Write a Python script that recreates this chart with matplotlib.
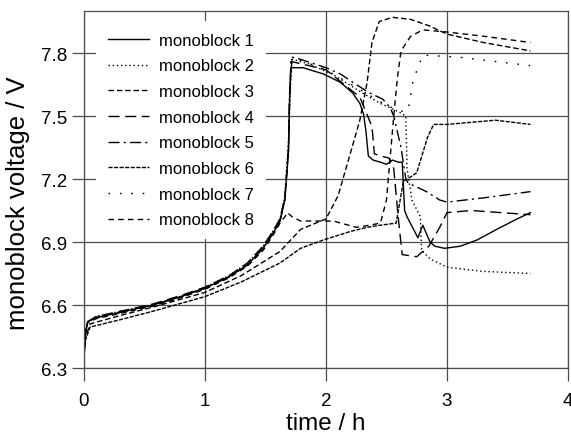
import matplotlib
matplotlib.use("Agg")
import matplotlib.pyplot as plt

plt.rcParams['font.family'] = ['Liberation Sans', 'DejaVu Sans']

# ---- data (time in h, voltage in V) ----
t1 = [0, 0.01, 0.03, 0.1, 0.3, 0.57, 0.8, 1.0, 1.2, 1.35, 1.48, 1.56, 1.62, 1.66, 1.69, 1.70, 1.71,
      1.81, 1.98, 2.12, 2.22, 2.28, 2.31, 2.33, 2.35, 2.39, 2.45, 2.5, 2.55, 2.6, 2.63, 2.65, 2.67,
      2.76, 2.8, 2.86, 2.9, 2.98, 3.11, 3.25, 3.41, 3.58, 3.69]
v1 = [6.36, 6.46, 6.52, 6.54, 6.565, 6.60, 6.64, 6.68, 6.735, 6.79, 6.87, 6.94, 7.0, 7.1, 7.33, 7.6, 7.73,
      7.73, 7.70, 7.66, 7.61, 7.56, 7.51, 7.43, 7.31, 7.29, 7.28, 7.27, 7.29, 7.28, 7.28, 7.05, 7.02,
      6.92, 6.98, 6.90, 6.88, 6.87, 6.88, 6.91, 6.96, 7.01, 7.04]

t2 = [0, 0.01, 0.03, 0.1, 0.3, 0.57, 0.8, 1.0, 1.2, 1.35, 1.48, 1.56, 1.62, 1.66, 1.69, 1.705, 1.72,
      1.85, 2.05, 2.3, 2.45, 2.6, 2.66, 2.67, 2.71, 2.78, 2.79, 2.86, 3.0, 3.3, 3.69]
v2 = [6.36, 6.46, 6.52, 6.545, 6.57, 6.60, 6.64, 6.685, 6.74, 6.80, 6.88, 6.95, 7.01, 7.12, 7.38, 7.62, 7.77,
      7.75, 7.70, 7.61, 7.56, 7.52, 7.50, 7.25, 7.10, 7.02, 6.86, 6.82, 6.78, 6.76, 6.75]

t3 = [0, 0.01, 0.05, 0.3, 0.6, 1.0, 1.3, 1.62, 1.79, 2.0, 2.1, 2.17, 2.28, 2.34, 2.38, 2.44, 2.55,
      2.7, 2.85, 3.0, 3.3, 3.69]
v3 = [6.35, 6.44, 6.51, 6.55, 6.595, 6.66, 6.74, 6.855, 6.96, 7.01, 7.12, 7.26, 7.48, 7.66, 7.85, 7.95, 7.97,
      7.96, 7.93, 7.89, 7.85, 7.81]

t4 = [0, 0.01, 0.03, 0.1, 0.3, 0.57, 0.8, 1.0, 1.2, 1.35, 1.48, 1.56, 1.62, 1.66, 1.69, 1.70, 1.71,
      2.0, 2.28, 2.38, 2.40, 2.45, 2.52, 2.56, 2.6, 2.63, 2.75, 2.85, 2.94, 3.0, 3.2, 3.69]
v4 = [6.36, 6.46, 6.52, 6.545, 6.57, 6.605, 6.645, 6.685, 6.74, 6.80, 6.88, 6.95, 7.01, 7.11, 7.35, 7.6, 7.76,
      7.72, 7.59, 7.45, 7.32, 7.31, 7.30, 7.25, 7.0, 6.84, 6.83, 6.88, 6.97, 7.04, 7.05, 7.03]

t5 = [0, 0.01, 0.03, 0.1, 0.3, 0.57, 0.8, 1.0, 1.2, 1.35, 1.48, 1.56, 1.62, 1.66, 1.69, 1.70, 1.72,
      1.79, 2.0, 2.12, 2.25, 2.36, 2.47, 2.53, 2.56, 2.62, 2.66, 2.68, 2.72, 2.83, 2.94, 3.0, 3.3, 3.69]
v5 = [6.36, 6.46, 6.52, 6.54, 6.565, 6.60, 6.64, 6.68, 6.735, 6.79, 6.87, 6.94, 7.0, 7.1, 7.34, 7.62, 7.78,
      7.77, 7.73, 7.70, 7.65, 7.61, 7.58, 7.54, 7.50, 7.35, 7.20, 7.18, 7.17, 7.14, 7.10, 7.09, 7.11, 7.14]

t6 = [0, 0.01, 0.05, 0.3, 0.6, 1.0, 1.3, 1.62, 1.79, 1.98, 2.2, 2.34, 2.45, 2.58, 2.64, 2.7, 2.75,
      2.84, 2.89, 3.0, 3.2, 3.4, 3.69]
v6 = [6.35, 6.43, 6.495, 6.53, 6.575, 6.64, 6.71, 6.80, 6.87, 6.91, 6.95, 6.97, 6.98, 6.99, 7.19, 7.21, 7.23,
      7.40, 7.46, 7.46, 7.47, 7.48, 7.46]

t7 = [0, 0.01, 0.03, 0.1, 0.3, 0.57, 0.8, 1.0, 1.2, 1.35, 1.48, 1.56, 1.62, 1.66, 1.69, 1.70, 1.72,
      2.0, 2.3, 2.5, 2.64, 2.68, 2.72, 2.76, 2.8, 3.1, 3.69]
v7 = [6.36, 6.46, 6.52, 6.545, 6.57, 6.60, 6.64, 6.68, 6.735, 6.79, 6.87, 6.94, 7.0, 7.1, 7.34, 7.62, 7.78,
      7.72, 7.62, 7.55, 7.52, 7.53, 7.67, 7.73, 7.79, 7.78, 7.74]

t8 = [0, 0.01, 0.03, 0.1, 0.3, 0.57, 0.8, 1.0, 1.2, 1.35, 1.48, 1.56, 1.62, 1.66, 1.68, 1.72,
      1.79, 2.06, 2.25, 2.36, 2.45, 2.5, 2.53, 2.56, 2.59, 2.62, 2.7, 2.8, 3.0, 3.3, 3.69]
v8 = [6.36, 6.45, 6.515, 6.535, 6.56, 6.595, 6.635, 6.675, 6.73, 6.785, 6.86, 6.93, 6.99, 7.02, 7.04, 7.02,
      7.0, 7.0, 6.97, 6.98, 6.99, 7.1, 7.3, 7.5, 7.68, 7.81, 7.88, 7.91, 7.90, 7.88, 7.85]

labels = ['monoblock 1', 'monoblock 2', 'monoblock 3', 'monoblock 4',
          'monoblock 5', 'monoblock 6', 'monoblock 7', 'monoblock 8']
x_ticks = [0, 1, 2, 3, 4]
y_ticks = [6.3, 6.6, 6.9, 7.2, 7.5, 7.8]
y_tick_labels = ['6.3', '6.6', '6.9', '7.2', '7.5', '7.8']

series = [(t1, v1), (t2, v2), (t3, v3), (t4, v4), (t5, v5), (t6, v6), (t7, v7), (t8, v8)]
styles = ['-', (0, (1, 2)), (0, (4, 2)), (0, (8, 4)), (0, (8, 3, 1.5, 3)),
          (0, (3, 1)), (0, (1.2, 7)), (0, (4, 3))]

fig = plt.figure(figsize=(5.71, 4.35), dpi=100)
ax = fig.add_axes([0.1471, 0.1517, 0.9947 - 0.1471, 0.9724 - 0.1517])

for (t, v), ls, lab in zip(series, styles, labels):
    ax.plot(t, v, color='black', lw=1.0, linestyle=ls, label=lab)

ax.set_xlim(0, 4)
ax.set_ylim(6.3, 8.0)
ax.set_xticks(x_ticks)
ax.set_yticks(y_ticks)
ax.set_yticklabels(y_tick_labels)
ax.grid(True, color='0.3', lw=0.9)
ax.set_axisbelow(True)
ax.tick_params(direction='out', length=9, width=0.9, color='0.3', labelsize=13.5)
ax.tick_params(axis='x', pad=8)
ax.tick_params(axis='y', pad=3)
for s in ax.spines.values():
    s.set_color('0.3')
    s.set_linewidth(0.9)

ax.set_xlabel('time / h', fontsize=17.5, labelpad=2.5)
ax.set_ylabel('monoblock voltage / V', fontsize=18.5)
ax.yaxis.set_label_coords(-0.112, 0.465)

leg = ax.legend(loc='upper left', bbox_to_anchor=(0.025, 0.972), frameon=True, fontsize=12,
                handlelength=2.5, handletextpad=0.6, labelspacing=0.64, borderpad=0.7,
                borderaxespad=0.0, fancybox=False)
leg.get_frame().set_edgecolor('white')
leg.get_frame().set_facecolor('white')
leg.get_frame().set_alpha(1.0)
leg.get_frame().set_linewidth(0)

fig.savefig('out.png', dpi=100)
